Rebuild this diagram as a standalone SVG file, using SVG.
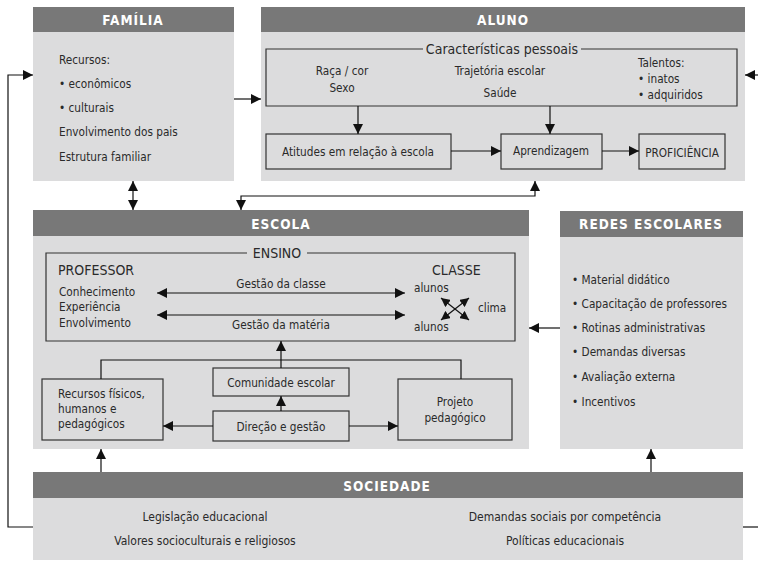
<svg xmlns="http://www.w3.org/2000/svg" width="758" height="561" viewBox="0 0 758 561">
<defs>
<style>
.hdr{fill:#787878}
.body{fill:#dcdcdd}
.box{fill:none;stroke:#333;stroke-width:1.2}
.ln{fill:none;stroke:#111;stroke-width:1.2}
.ht{font-family:"Liberation Sans Narrow","DejaVu Sans Condensed","Liberation Sans",sans-serif;font-weight:bold;font-size:13.5px;fill:#fff;letter-spacing:1px;text-anchor:middle}
.t{font-family:"Liberation Sans Narrow","DejaVu Sans Condensed","Liberation Sans",sans-serif;font-size:11.7px;fill:#2a2a2a}
.tm{font-family:"Liberation Sans Narrow","DejaVu Sans Condensed","Liberation Sans",sans-serif;font-size:11.7px;fill:#2a2a2a;text-anchor:middle}
.ts{font-family:"Liberation Sans Narrow","DejaVu Sans Condensed","Liberation Sans",sans-serif;font-size:12px;fill:#2a2a2a;text-anchor:middle}
.tl{font-family:"Liberation Sans Narrow","DejaVu Sans Condensed","Liberation Sans",sans-serif;font-size:14px;fill:#2a2a2a}
</style>
<marker id="ah" viewBox="0 0 10 10" refX="10" refY="5" markerWidth="10" markerHeight="10" markerUnits="userSpaceOnUse" orient="auto-start-reverse">
<path d="M0,0 L10,5 L0,10 z" fill="#111"/>
</marker>
<marker id="ahs" viewBox="0 0 10 10" refX="10" refY="5" markerWidth="9" markerHeight="9" markerUnits="userSpaceOnUse" orient="auto-start-reverse">
<path d="M0,0 L10,5 L0,10 z" fill="#111"/>
</marker>
</defs>
<rect width="758" height="561" fill="#fff"/>

<g id="familia">
<rect class="body" x="33" y="7" width="201" height="174"/>
<rect class="hdr" x="33" y="7" width="201" height="25"/>
<text class="ht" x="133" y="25">FAMÍLIA</text>
<text class="t" x="59" y="64">Recursos:</text>
<text class="t" x="59" y="88">• econômicos</text>
<text class="t" x="59" y="112">• culturais</text>
<text class="t" x="59" y="136">Envolvimento dos pais</text>
<text class="t" x="59" y="161">Estrutura familiar</text>
</g>

<g id="aluno">
<rect class="body" x="261" y="7" width="484" height="174"/>
<rect class="hdr" x="261" y="7" width="484" height="25"/>
<text class="ht" x="503" y="25">ALUNO</text>
<path class="box" d="M423,49 L266,49 L266,106 L737,106 L737,49 L581,49"/>
<text class="tl" x="502" y="54" text-anchor="middle">Características pessoais</text>
<text class="tm" x="342" y="75">Raça / cor</text>
<text class="tm" x="342" y="92">Sexo</text>
<text class="tm" x="500" y="75">Trajetória escolar</text>
<text class="tm" x="500" y="97">Saúde</text>
<text class="t" x="638" y="67">Talentos:</text>
<text class="t" x="638" y="83">• inatos</text>
<text class="t" x="638" y="99">• adquiridos</text>
</g>
<g id="atitudes">
<rect class="box" x="266" y="134" width="185" height="35"/>
<text class="tm" x="358" y="156">Atitudes em relação à escola</text>
</g>
<g id="aprendizagem">
<rect class="box" x="501" y="134" width="101" height="35"/>
<text class="tm" x="551" y="155">Aprendizagem</text>
</g>
<g id="proficiencia">
<rect class="box" x="639" y="134" width="86" height="35"/>
<text class="tm" x="682" y="157">PROFICIÊNCIA</text>
</g>

<g id="escola">
<rect class="body" x="33" y="210" width="496" height="239"/>
<rect class="hdr" x="33" y="210" width="496" height="26"/>
<text class="ht" x="281" y="229">ESCOLA</text>
</g>
<g id="ensino">
<path class="box" d="M247,253 L46,253 L46,341 L515,341 L515,253 L307,253"/>
<text class="tl" x="277" y="258" text-anchor="middle">ENSINO</text>
<text class="tl" x="58" y="275">PROFESSOR</text>
<text class="t" x="59" y="296">Conhecimento</text>
<text class="t" x="59" y="311">Experiência</text>
<text class="t" x="59" y="327">Envolvimento</text>
<text class="tm" x="281" y="288">Gestão da classe</text>
<text class="tm" x="281" y="329">Gestão da matéria</text>
<text class="tl" x="432" y="275">CLASSE</text>
<text class="t" x="414" y="292">alunos</text>
<text class="t" x="478" y="312">clima</text>
<text class="t" x="414" y="331">alunos</text>
</g>
<g id="comunidade">
<rect class="box" x="213" y="368" width="136" height="28"/>
<text class="tm" x="281" y="387">Comunidade escolar</text>
</g>
<g id="direcao">
<rect class="box" x="213" y="411" width="136" height="30"/>
<text class="tm" x="281" y="431">Direção e gestão</text>
</g>
<g id="recursos">
<rect class="box" x="42" y="379" width="121" height="61"/>
<text class="t" x="58" y="398">Recursos físicos,</text>
<text class="t" x="58" y="413">humanos e</text>
<text class="t" x="58" y="428">pedagógicos</text>
</g>
<g id="projeto">
<rect class="box" x="398" y="379" width="114" height="61"/>
<text class="tm" x="455" y="406">Projeto</text>
<text class="tm" x="455" y="422">pedagógico</text>
</g>

<g id="redes">
<rect class="body" x="560" y="211" width="183" height="238"/>
<rect class="hdr" x="560" y="211" width="183" height="26"/>
<text class="ht" x="651" y="229">REDES ESCOLARES</text>
<text class="t" x="572" y="284">• Material didático</text>
<text class="t" x="572" y="308">• Capacitação de professores</text>
<text class="t" x="572" y="332">• Rotinas administrativas</text>
<text class="t" x="572" y="356">• Demandas diversas</text>
<text class="t" x="572" y="381">• Avaliação externa</text>
<text class="t" x="572" y="406">• Incentivos</text>
</g>

<g id="sociedade">
<rect class="body" x="33" y="472" width="710" height="88"/>
<rect class="hdr" x="33" y="472" width="710" height="26"/>
<text class="ht" x="387" y="491">SOCIEDADE</text>
<text class="ts" x="205" y="521">Legislação educacional</text>
<text class="ts" x="205" y="545">Valores socioculturais e religiosos</text>
<text class="ts" x="565" y="521">Demandas sociais por competência</text>
<text class="ts" x="565" y="545">Políticas educacionais</text>
</g>

<g id="connectors">
<path class="ln" d="M234,99 L261,99" marker-end="url(#ah)"/>
<path class="ln" d="M33,527 L8,527 L8,75 L33,75" marker-end="url(#ah)"/>
<path class="ln" d="M743,527 L758,527"/>
<path class="ln" d="M758,75 L745,75" marker-end="url(#ah)"/>
<path class="ln" d="M358,106 L358,134" marker-end="url(#ah)"/>
<path class="ln" d="M550,106 L550,134" marker-end="url(#ah)"/>
<path class="ln" d="M451,151 L501,151" marker-end="url(#ah)"/>
<path class="ln" d="M602,151 L639,151" marker-end="url(#ah)"/>
<path class="ln" d="M133,181 L133,210" marker-start="url(#ah)" marker-end="url(#ah)"/>
<path class="ln" d="M241,210 L241,196 L535,196 L535,181" marker-start="url(#ah)" marker-end="url(#ah)"/>
<path class="ln" d="M157,293 L405,293" marker-start="url(#ah)" marker-end="url(#ah)"/>
<path class="ln" d="M157,315 L405,315" marker-start="url(#ah)" marker-end="url(#ah)"/>
<path class="ln" d="M441,298 L469,320" marker-start="url(#ahs)" marker-end="url(#ahs)"/>
<path class="ln" d="M469,298 L441,320" marker-start="url(#ahs)" marker-end="url(#ahs)"/>
<path class="ln" d="M101,379 L101,360 L461,360 L461,379"/>
<path class="ln" d="M281,368 L281,341" marker-end="url(#ah)"/>
<path class="ln" d="M281,411 L281,396" marker-end="url(#ah)"/>
<path class="ln" d="M213,426 L163,426" marker-end="url(#ah)"/>
<path class="ln" d="M349,426 L398,426" marker-end="url(#ah)"/>
<path class="ln" d="M560,328 L529,328" marker-end="url(#ah)"/>
<path class="ln" d="M101,472 L101,449" marker-end="url(#ah)"/>
<path class="ln" d="M651,472 L651,449" marker-end="url(#ah)"/>
</g>
</svg>
